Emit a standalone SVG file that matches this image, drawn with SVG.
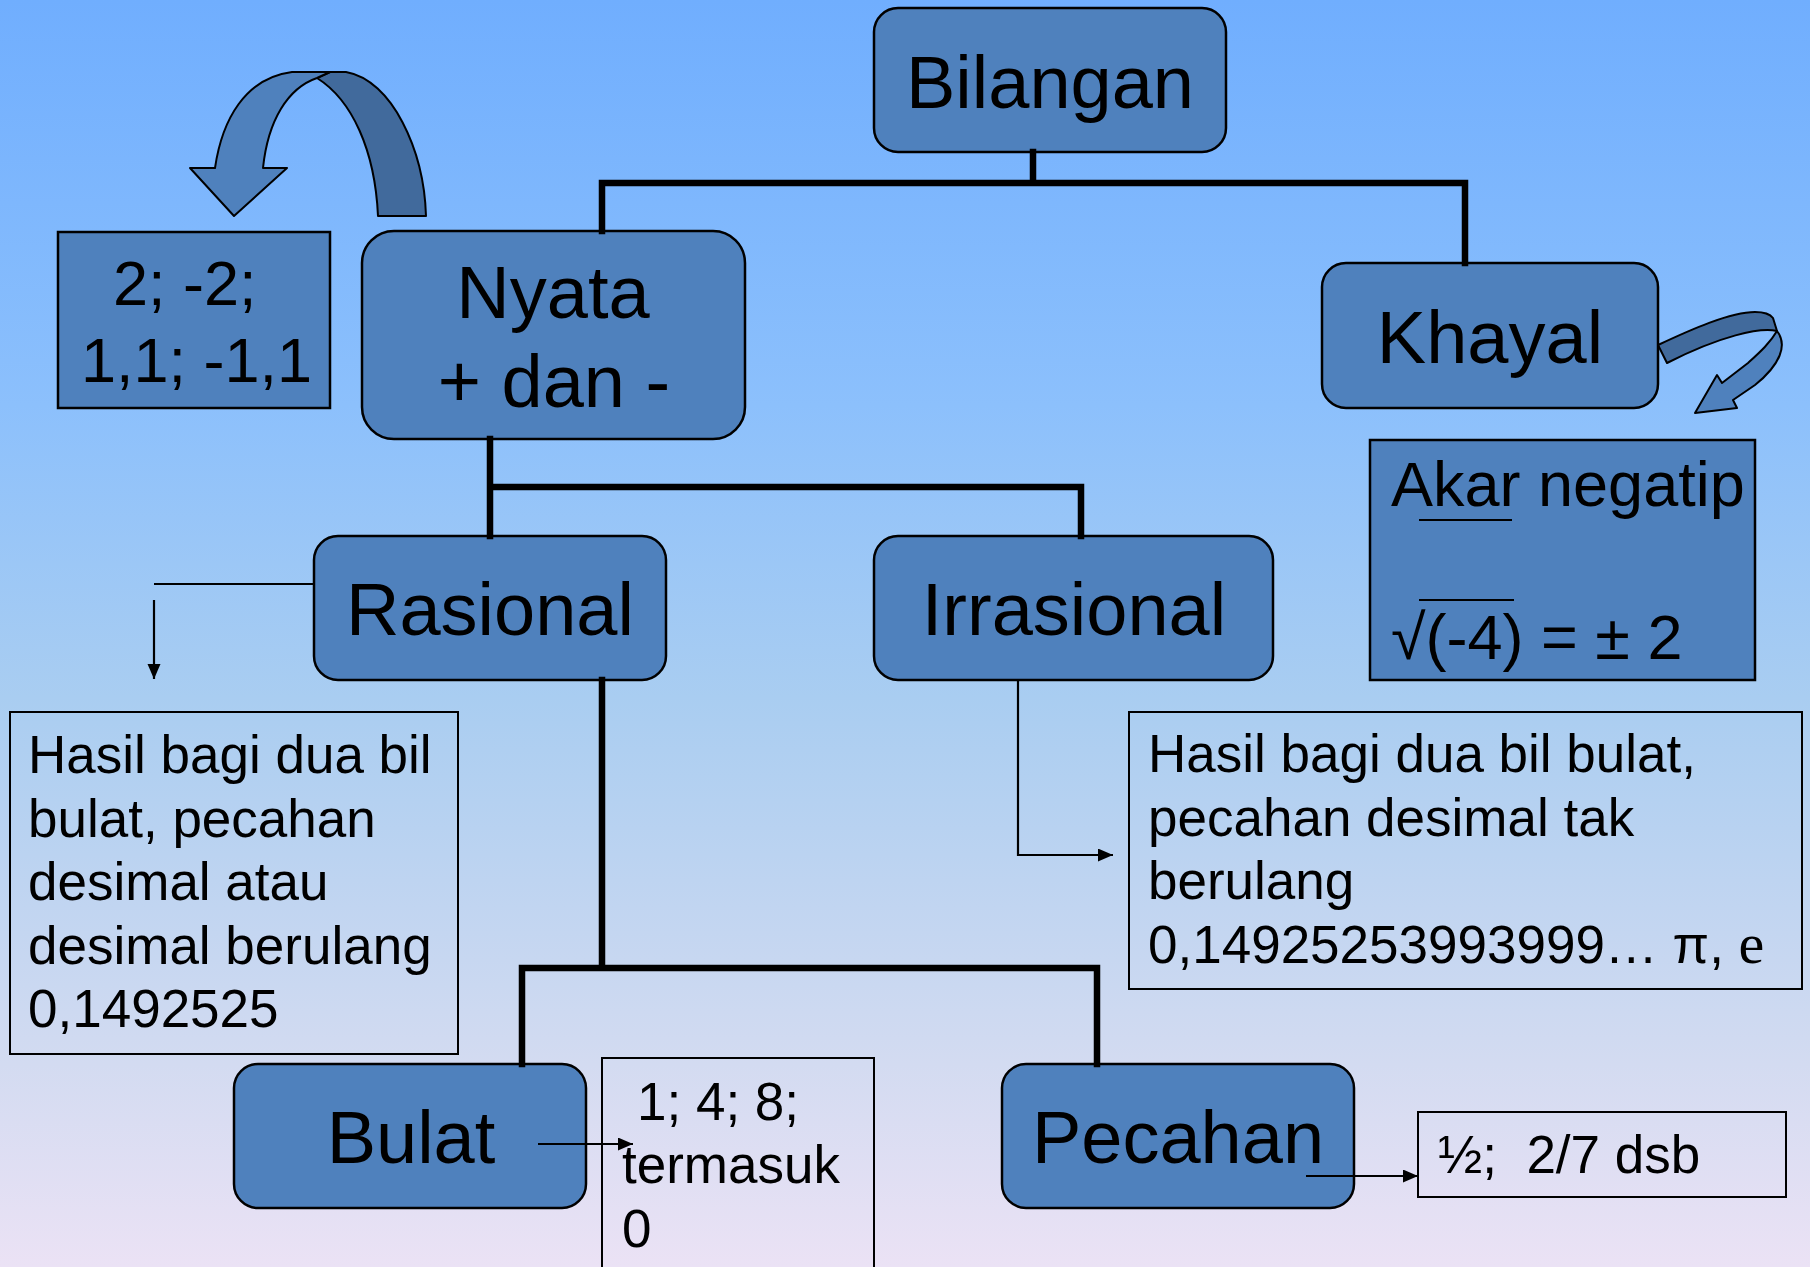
<svg xmlns="http://www.w3.org/2000/svg" width="1810" height="1267" viewBox="0 0 1810 1267">
  <defs>
    <linearGradient id="bg" x1="0" y1="0" x2="0" y2="1">
      <stop offset="0" stop-color="#70aefe"/>
      <stop offset="0.32" stop-color="#8cc0fc"/>
      <stop offset="0.55" stop-color="#a9cdf1"/>
      <stop offset="0.84" stop-color="#d3dbf1"/>
      <stop offset="1" stop-color="#ebe2f5"/>
    </linearGradient>
    <marker id="head" markerUnits="userSpaceOnUse" markerWidth="16" markerHeight="14" refX="15" refY="6.5" orient="auto">
      <path d="M0,0 L15,6.5 L0,13 Z" fill="#000"/>
    </marker>
    <style>
      .node { fill: #4f81bd; stroke: #000; stroke-width: 2.5; }
      .note { fill: none; stroke: #000; stroke-width: 2; }
      .title { font-family: "Liberation Sans", Arial, sans-serif; font-size: 74px; fill: #000; text-anchor: middle; }
      .body { font-family: "Liberation Sans", Arial, sans-serif; font-size: 53px; fill: #000; }
      .mid { font-family: "Liberation Sans", Arial, sans-serif; font-size: 63px; fill: #000; }
      .trunk { fill: none; stroke: #000; stroke-width: 6.5; stroke-linecap: square; }
      .thin { fill: none; stroke: #000; stroke-width: 2.2; }
      .front { fill: #4f81bd; stroke: #000; stroke-width: 2; stroke-linejoin: round; }
      .back { fill: #416a9c; stroke: #000; stroke-width: 2; stroke-linejoin: round; }
    </style>
  </defs>

  <rect x="0" y="0" width="1810" height="1267" fill="url(#bg)"/>

  <!-- curved ribbon arrow above the Nyata examples -->
  <g id="arrow-nyata">
    <path class="back" d="M317,78 L330,72 L346,72 C392,80 424,150 426,216 L378,216 C375,150 352,100 317,78 Z"/>
    <path class="front" d="M215,168 L190,168 L234,216 L287,168 L263,168 C268,120 288,88 317,78 L330,72 L292,72 C245,78 222,120 215,168 Z"/>
  </g>

  <!-- curved ribbon arrow beside Khayal -->
  <g id="arrow-khayal">
    <path class="front" d="M1777,331 C1788,345 1780,365 1755,385 L1733,400 L1737,408 L1695,413 L1717,375 L1722,383 L1748,363 C1760,352 1770,343 1777,331 Z"/>
    <path class="back" d="M1658,345 C1690,330 1730,312 1755,312 C1763,312 1770,314 1773,318 L1777,331 C1760,327 1720,336 1667,363 Z"/>
  </g>

  <g id="bilangan">
    <rect class="node" x="874" y="8" width="352" height="144" rx="24"/>
    <text class="title" x="1050" y="108">Bilangan</text>
  </g>

  <g id="nyata">
    <rect class="node" x="362" y="231" width="383" height="208" rx="32"/>
    <text class="title" x="553" y="318">Nyata</text>
    <text class="title" x="554" y="407">+ dan -</text>
  </g>

  <g id="nyata-contoh">
    <rect class="node" x="58" y="232" width="272" height="176"/>
    <text class="mid" x="113" y="305" font-size="62">2; -2;</text>
    <text class="mid" x="81" y="382" font-size="62">1,1; -1,1</text>
  </g>

  <g id="khayal">
    <rect class="node" x="1322" y="263" width="336" height="145" rx="24"/>
    <text class="title" x="1490" y="363">Khayal</text>
  </g>

  <g id="khayal-contoh">
    <rect class="node" x="1370" y="440" width="385" height="240"/>
    <text class="mid" x="1391" y="506">Akar negatip</text>
    <line x1="1419" y1="520" x2="1512" y2="520" stroke="#000" stroke-width="2"/>
    <line x1="1419" y1="600" x2="1514" y2="600" stroke="#000" stroke-width="2"/>
    <text class="mid" x="1391" y="659">√(-4) = ± 2</text>
  </g>

  <g id="rasional">
    <rect class="node" x="314" y="536" width="352" height="144" rx="24"/>
    <text class="title" x="490" y="635">Rasional</text>
  </g>

  <g id="rasional-keterangan">
    <rect class="note" x="10" y="712" width="448" height="342"/>
    <text class="body" x="28" y="773">Hasil bagi dua bil</text>
    <text class="body" x="28" y="836.5">bulat, pecahan</text>
    <text class="body" x="28" y="900">desimal atau</text>
    <text class="body" x="28" y="963.5">desimal berulang</text>
    <text class="body" x="28" y="1027">0,1492525</text>
  </g>

  <g id="irrasional">
    <rect class="node" x="874" y="536" width="399" height="144" rx="24"/>
    <text class="title" x="1074" y="635">Irrasional</text>
  </g>

  <g id="irrasional-keterangan">
    <rect class="note" x="1129" y="712" width="673" height="277"/>
    <text class="body" x="1148" y="772">Hasil bagi dua bil bulat,</text>
    <text class="body" x="1148" y="835.5">pecahan desimal tak</text>
    <text class="body" x="1148" y="899">berulang</text>
    <text class="body" x="1148" y="962.5">0,14925253993999… π, <tspan font-family="'Liberation Serif', serif" font-size="58">e</tspan></text>
  </g>

  <g id="bulat">
    <rect class="node" x="234" y="1064" width="352" height="144" rx="24"/>
    <text class="title" x="411" y="1163">Bulat</text>
  </g>

  <g id="bulat-contoh">
    <path class="note" d="M602,1267 V1058 H874 V1267"/>
    <text class="body" x="637" y="1120">1; 4; 8;</text>
    <text class="body" x="622" y="1183">termasuk</text>
    <text class="body" x="622" y="1247">0</text>
  </g>

  <g id="pecahan">
    <rect class="node" x="1002" y="1064" width="352" height="144" rx="24"/>
    <text class="title" x="1178" y="1163">Pecahan</text>
  </g>

  <g id="pecahan-contoh">
    <rect class="note" x="1418" y="1112" width="368" height="85"/>
    <text class="body" x="1438" y="1173" xml:space="preserve">½;  2/7 dsb</text>
  </g>

  <!-- tree connectors, drawn last so arrows starting inside a box stay visible -->
  <g id="connectors">
    <path class="trunk" d="M1033,152 V183 M602,183 H1465 M602,183 V231 M1465,183 V263"/>
    <path class="trunk" d="M490,439 V536 M490,487 H1081 V536"/>
    <path class="trunk" d="M602,680 V968 M522,968 H1097 M522,968 V1064 M1097,968 V1064"/>
    <path class="thin" d="M314,584 H154"/>
    <path class="thin" d="M154,600 V679" marker-end="url(#head)"/>
    <path class="thin" d="M1018,680 V855 H1113" marker-end="url(#head)"/>
    <path class="thin" d="M538,1144 H633" marker-end="url(#head)"/>
    <path class="thin" d="M1306,1176 H1418" marker-end="url(#head)"/>
  </g>
</svg>
